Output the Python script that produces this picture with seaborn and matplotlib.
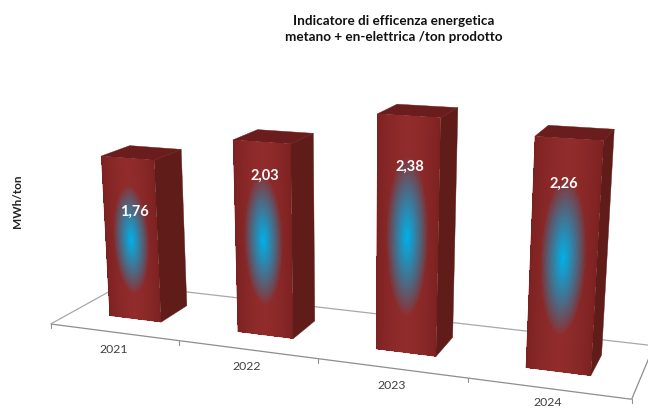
import numpy as np
import matplotlib
matplotlib.use("Agg")
import matplotlib.pyplot as plt
from matplotlib.transforms import Affine2D, Transform
import seaborn as sns

# Data
years = ["2021", "2022", "2023", "2024"]
intensity = [1.76, 2.03, 2.38, 2.26]
value_labels = ["1,76", "2,03", "2,38", "2,26"]
title_lines = "Indicatore di efficenza energetica\nmetano + en-elettrica /ton prodotto"
unit_label = "MWh/ton"

# Styling
BAR_WIDTH = 0.41
DEPTH_FRONT, DEPTH_BACK = 0.30, 0.70
FRONT_EDGE = np.array([122, 32, 32]) / 255
FRONT_MID = np.array([146, 44, 44]) / 255
SIDE_COLOR = "#5f1c19"
TOP_COLOR = "#6b1c1c"
GLOW_CORE = np.array([0, 176, 232]) / 255
label_height_share = [0.68, 0.83, 0.795, 0.812]
label_shift = [0.035, 0.02, 0.015, -0.015]

W, H = 648, 408

# Perspective camera: (category position, floor depth, value) -> canvas pixels
CAMERA = np.array([
    [121.6, 83.27, -6.895, 50.7],
    [3.88, -11.56, -95.5, 324.0],
    [-0.03742, 0.0982, -0.0197, 1.0],
])


def project(u, d, h):
    u, d, h = np.broadcast_arrays(np.asarray(u, float), np.asarray(d, float), np.asarray(h, float))
    world = np.stack([u, d, h, np.ones_like(u)], axis=-1)
    image = world @ CAMERA.T
    return image[..., :2] / image[..., 2:]


class FaceTransform(Transform):
    """Maps axes data (bar position, value) onto a plane of constant depth."""
    input_dims = 2
    output_dims = 2
    is_affine = False
    has_inverse = False

    def __init__(self, plane_depth):
        super().__init__()
        self.plane_depth = plane_depth

    def transform_non_affine(self, values):
        values = np.asarray(values, float)
        return project(values[:, 0] + 0.5, self.plane_depth, values[:, 1])


sns.set_theme(style="white")
plt.rcParams["font.family"] = ["Lato", "DejaVu Sans"]

fig = plt.figure(figsize=(W / 100, H / 100), dpi=100, facecolor="white")
ax = fig.add_axes([0, 0, 1, 1])

n = len(years)
sns.barplot(x=np.arange(n), y=intensity, native_scale=True, width=BAR_WIDTH,
            color=matplotlib.colors.to_hex(FRONT_MID), saturation=1, ax=ax, zorder=3, linewidth=0)
ax.set_xlim(-1, 4)
ax.set_ylim(-1, 4)
ax.set_autoscale_on(False)
ax.set_axis_off()

to_canvas = Affine2D().scale(1, -1).translate(0, H)
front_plane = FaceTransform(DEPTH_FRONT) + to_canvas


def floor_line(p, q, color, lw=0.9, zorder=1):
    pts = project([p[0], q[0]], [p[1], q[1]], 0.0)
    ax.plot(pts[:, 0], pts[:, 1], color=color, lw=lw, transform=to_canvas,
            zorder=zorder, solid_capstyle="butt", clip_on=False)


# Floor outline and category ticks
floor_line((0, 0), (n, 0), "#8e8e8e")
floor_line((0, 0), (0, 1), "#a8a8a8")
floor_line((0, 1), (n, 1), "#a8a8a8")
floor_line((n, 0), (n, 1), "#8e8e8e")
for k in range(n + 1):
    base = project(k, 0.0, 0.0)
    ax.plot([base[0], base[0]], [base[1], base[1] + 4], color="#8e8e8e", lw=0.8,
            transform=to_canvas, zorder=1)

# Bars: seaborn supplies the front rectangles; side, top and shading follow from them
for k, bar in enumerate(list(ax.patches)[:n]):
    x0, x1 = bar.get_x(), bar.get_x() + bar.get_width()
    height = bar.get_height()
    bar.set_transform(front_plane)
    bar.set_clip_on(False)

    u0, u1 = x0 + 0.5, x1 + 0.5
    side = project([u1, u1, u1, u1], [DEPTH_FRONT, DEPTH_BACK, DEPTH_BACK, DEPTH_FRONT],
                   [0, 0, height, height])
    top = project([u0, u1, u1, u0], [DEPTH_FRONT, DEPTH_FRONT, DEPTH_BACK, DEPTH_BACK], height)
    ax.fill(side[:, 0], side[:, 1], color=SIDE_COLOR, lw=0.3, transform=to_canvas, zorder=2)
    ax.fill(top[:, 0], top[:, 1], color=TOP_COLOR, lw=0.3, transform=to_canvas, zorder=2)

    # Front face shading with the elliptical glow in the middle
    xe = np.linspace(x0, x1, 81)
    ye = np.linspace(0, height, 201)
    X, Y = np.meshgrid(xe, ye)
    s = (np.arange(80) + 0.5)[None, :] / 80 - 0.5
    t = (np.arange(200) + 0.5)[:, None] / 200 - 0.5
    across = np.clip(1 - np.abs(s) / 0.5, 0, 1) ** 0.6
    radius = np.sqrt((s / 0.34) ** 2 + (t / 0.335) ** 2)
    glow = np.clip(1 - radius, 0, 1) ** 0.85
    rgb = FRONT_EDGE[None, None, :] + (FRONT_MID - FRONT_EDGE)[None, None, :] * across[..., None]
    rgb = np.repeat(rgb, 200, axis=0)
    rgb = rgb * (1 - glow[..., None]) + GLOW_CORE[None, None, :] * glow[..., None]
    rgba = np.dstack([rgb, np.ones(rgb.shape[:2])])
    ax.pcolormesh(X, Y, rgba, transform=front_plane, antialiased=False, shading="flat", zorder=3.5)

    # Value label on the front face
    lx, ly = project(k + 0.5 + label_shift[k], DEPTH_FRONT, height * label_height_share[k])
    ax.text(lx, ly, value_labels[k], color="white", fontsize=10.5, fontweight="bold",
            ha="center", va="center", transform=to_canvas, zorder=5)

    # Category label under the floor edge, kept inside the canvas
    cx, cy = project(k + 0.5, 0.0, 0.0)
    ax.text(cx, min(cy + 17.5, H - 5), years[k], color="#404040", fontsize=8.8, ha="center",
            va="center", transform=to_canvas, zorder=5, clip_on=False)

ax.text(394, 29, title_lines, color="#111111", fontsize=9.75, fontweight="bold", ha="center",
        va="center", linespacing=1.4, transform=to_canvas)
ax.text(17, 201, unit_label, color="#222222", fontsize=8.5, fontweight="bold", rotation=90,
        ha="center", va="center", transform=to_canvas)

fig.savefig("out.png", dpi=100, facecolor="white")
